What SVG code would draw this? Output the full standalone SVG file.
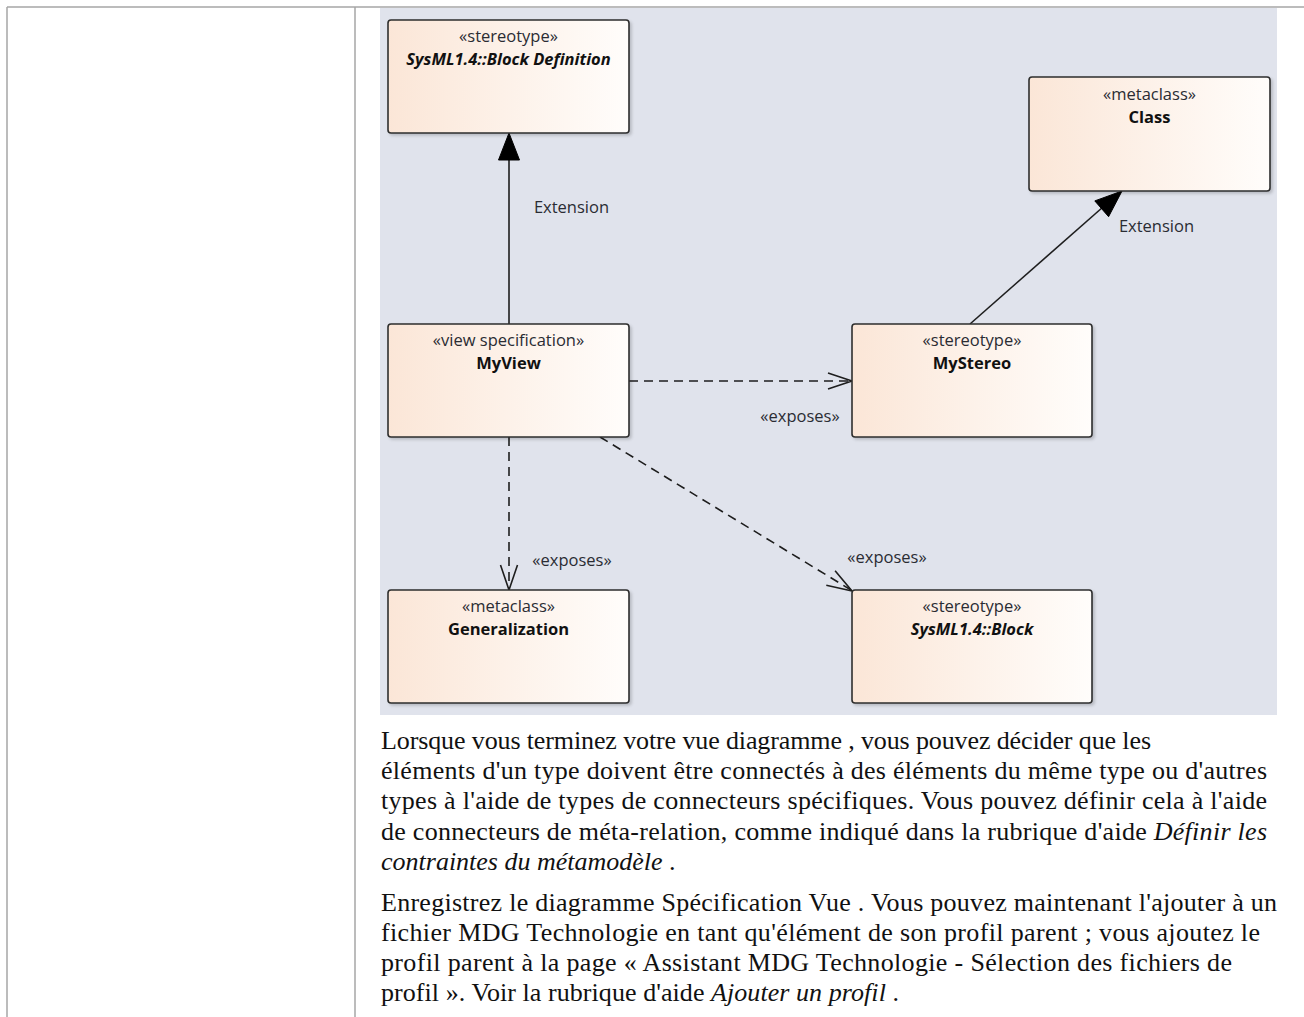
<svg xmlns="http://www.w3.org/2000/svg" width="1304" height="1017" viewBox="0 0 1304 1017">
<style>
.node rect.box{fill:url(#nodeGrad);stroke:#2e2e2e;stroke-width:1.6;filter:url(#shadow)}
.st{font-family:"Open Sans","Noto Sans",sans-serif;font-size:16.5px;fill:#2a2c33;text-anchor:middle}
.nm{font-family:"Open Sans","Noto Sans",sans-serif;font-size:16.5px;font-weight:bold;fill:#111;text-anchor:middle}
.nmi{font-style:italic}
.lbl{font-family:"Open Sans","Noto Sans",sans-serif;font-size:16.5px;fill:#2a2c33;text-anchor:middle}
.solid{stroke:#1e1e1e;stroke-width:1.6;fill:none}
.dash{stroke:#1e1e1e;stroke-width:1.6;fill:none;stroke-dasharray:9 6}
.open{stroke:#1e1e1e;stroke-width:1.6;fill:none}
.tri{fill:#000;stroke:#000;stroke-width:1}
.para{font-family:"Liberation Serif","Times New Roman",serif;font-size:26px;fill:#111}
.it{font-style:italic}
.rule{stroke:#a6a6a6;stroke-width:1.5}
</style>
<defs>
<linearGradient id="nodeGrad" x1="0" y1="0" x2="1" y2="0">
<stop offset="0" stop-color="#fbe6d7"/>
<stop offset="1" stop-color="#fffdfb"/>
</linearGradient>
<filter id="shadow" x="-10%" y="-10%" width="130%" height="130%">
<feDropShadow dx="2" dy="2" stdDeviation="1.5" flood-color="#000" flood-opacity="0.18"/>
</filter>
</defs>
<rect x="0" y="0" width="1304" height="1017" fill="#fff"/>
<g id="table">
<line class="rule" x1="7" y1="7" x2="1304" y2="7"/>
<line class="rule" x1="7" y1="7" x2="7" y2="1017"/>
<line class="rule" x1="355" y1="7" x2="355" y2="1017"/>
</g>
<rect id="canvas" x="380" y="8" width="897" height="707" fill="#e0e3ec"/>
<g id="connectors">
<line class="solid" x1="509" y1="324" x2="509" y2="158"/>
<polygon class="tri" points="509,133 498.5,160 519.5,160"/>
<line class="solid" x1="970" y1="324" x2="1103" y2="207"/>
<polygon class="tri" points="1122,191 1108.6,216.7 1094.8,200.9"/>
<line class="dash" x1="629" y1="381" x2="851" y2="381"/>
<polyline class="open" points="828,373 852,381 828,389"/>
<line class="dash" x1="509" y1="437" x2="509" y2="589"/>
<polyline class="open" points="500.5,565 509,590 517.5,565"/>
<line class="dash" x1="600" y1="437" x2="851" y2="590"/>
<polyline class="open" points="826.3,585.3 852,591 835.1,570.8"/>
<text class="lbl" x="571.5" y="213">Extension</text>
<text class="lbl" x="1156.5" y="232">Extension</text>
<text class="lbl" x="800" y="422">«exposes»</text>
<text class="lbl" x="572" y="566">«exposes»</text>
<text class="lbl" x="887" y="563">«exposes»</text>
</g>
<g id="node-blockdef" class="node">
<rect class="box" x="388" y="20" width="241" height="113" rx="3"/>
<text class="st" x="508.5" y="42">«stereotype»</text>
<text class="nm nmi" x="508.5" y="65">SysML1.4::Block Definition</text>
</g>
<g id="node-class" class="node">
<rect class="box" x="1029" y="77" width="241" height="114" rx="3"/>
<text class="st" x="1149.5" y="100">«metaclass»</text>
<text class="nm" x="1149.5" y="123">Class</text>
</g>
<g id="node-myview" class="node">
<rect class="box" x="388" y="324" width="241" height="113" rx="3"/>
<text class="st" x="508.5" y="346">«view specification»</text>
<text class="nm" x="508.5" y="369">MyView</text>
</g>
<g id="node-mystereo" class="node">
<rect class="box" x="852" y="324" width="240" height="113" rx="3"/>
<text class="st" x="972" y="346">«stereotype»</text>
<text class="nm" x="972" y="369">MyStereo</text>
</g>
<g id="node-generalization" class="node">
<rect class="box" x="388" y="590" width="241" height="113" rx="3"/>
<text class="st" x="508.5" y="612">«metaclass»</text>
<text class="nm" x="508.5" y="635">Generalization</text>
</g>
<g id="node-block" class="node">
<rect class="box" x="852" y="590" width="240" height="113" rx="3"/>
<text class="st" x="972" y="612">«stereotype»</text>
<text class="nm nmi" x="972" y="635">SysML1.4::Block</text>
</g>
<g id="text">
<text class="para" x="381" y="749" textLength="770" lengthAdjust="spacing">Lorsque vous terminez votre vue diagramme , vous pouvez décider que les</text>
<text class="para" x="381" y="779" textLength="886" lengthAdjust="spacing">éléments d'un type doivent être connectés à des éléments du même type ou d'autres</text>
<text class="para" x="381" y="809" textLength="886" lengthAdjust="spacing">types à l'aide de types de connecteurs spécifiques. Vous pouvez définir cela à l'aide</text>
<text class="para" x="381" y="840" textLength="886" lengthAdjust="spacing">de connecteurs de méta-relation, comme indiqué dans la rubrique d'aide <tspan class="it">Définir les</tspan></text>
<text class="para" x="381" y="870"><tspan class="it">contraintes du métamodèle</tspan> .</text>
<text class="para" x="381" y="911" textLength="896" lengthAdjust="spacing">Enregistrez le diagramme Spécification Vue . Vous pouvez maintenant l'ajouter à un</text>
<text class="para" x="381" y="941" textLength="879" lengthAdjust="spacing">fichier MDG Technologie en tant qu'élément de son profil parent ; vous ajoutez le</text>
<text class="para" x="381" y="971" textLength="851" lengthAdjust="spacing">profil parent à la page « Assistant MDG Technologie - Sélection des fichiers de</text>
<text class="para" x="381" y="1001" textLength="518" lengthAdjust="spacing">profil ». Voir la rubrique d'aide <tspan class="it">Ajouter un profil</tspan> .</text>
</g>
</svg>
